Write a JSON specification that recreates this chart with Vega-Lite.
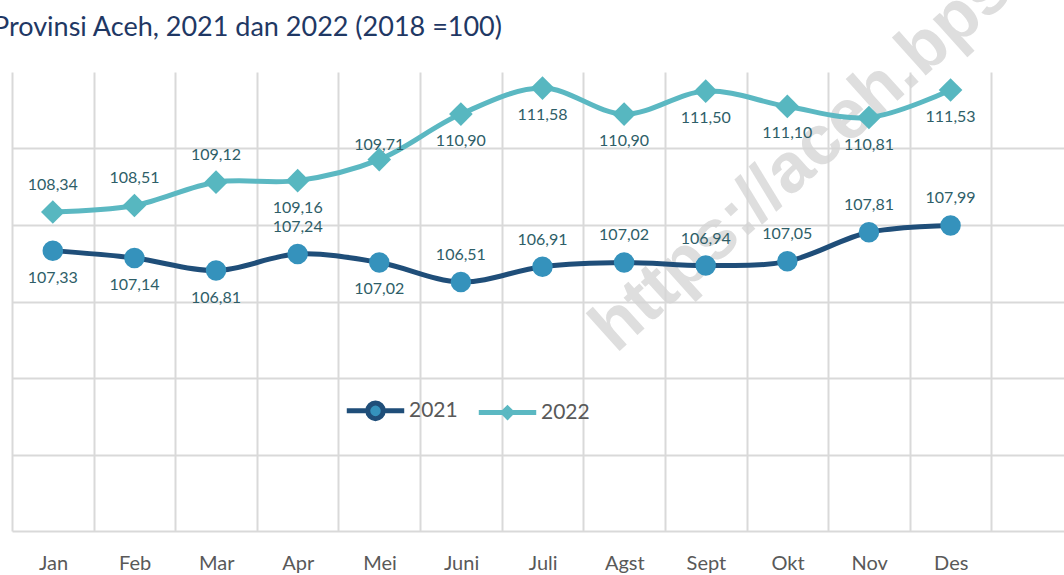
{
  "$schema": "https://vega.github.io/schema/vega-lite/v6.json",
  "autosize": {"type": "none"},
  "padding": {"left": 12, "top": 72, "right": 0, "bottom": 44},
  "width": 1052,
  "height": 459,
  "background": "white",
  "config": {
    "view": {"stroke": null},
    "locale": {"number": {"decimal": ",", "thousands": ".", "grouping": [3], "currency": ["", ""]}},
    "font": "Lato"
  },
  "title": {
    "text": "Provinsi Aceh, 2021 dan 2022 (2018 =100)",
    "anchor": "start",
    "frame": "group",
    "dx": -19,
    "dy": 122,
    "offset": 0,
    "baseline": "alphabetic",
    "font": "Lato",
    "fontSize": 27,
    "fontWeight": "normal",
    "color": "#1F3864"
  },
  "data": {
    "values": [
      {"m": 1, "bulan": "Jan", "year": "2021", "value": 107.33},
      {"m": 2, "bulan": "Feb", "year": "2021", "value": 107.14},
      {"m": 3, "bulan": "Mar", "year": "2021", "value": 106.81},
      {"m": 4, "bulan": "Apr", "year": "2021", "value": 107.24},
      {"m": 5, "bulan": "Mei", "year": "2021", "value": 107.02},
      {"m": 6, "bulan": "Juni", "year": "2021", "value": 106.51},
      {"m": 7, "bulan": "Juli", "year": "2021", "value": 106.91},
      {"m": 8, "bulan": "Agst", "year": "2021", "value": 107.02},
      {"m": 9, "bulan": "Sept", "year": "2021", "value": 106.94},
      {"m": 10, "bulan": "Okt", "year": "2021", "value": 107.05},
      {"m": 11, "bulan": "Nov", "year": "2021", "value": 107.81},
      {"m": 12, "bulan": "Des", "year": "2021", "value": 107.99},
      {"m": 1, "bulan": "Jan", "year": "2022", "value": 108.34},
      {"m": 2, "bulan": "Feb", "year": "2022", "value": 108.51},
      {"m": 3, "bulan": "Mar", "year": "2022", "value": 109.12},
      {"m": 4, "bulan": "Apr", "year": "2022", "value": 109.16},
      {"m": 5, "bulan": "Mei", "year": "2022", "value": 109.71},
      {"m": 6, "bulan": "Juni", "year": "2022", "value": 110.90},
      {"m": 7, "bulan": "Juli", "year": "2022", "value": 111.58},
      {"m": 8, "bulan": "Agst", "year": "2022", "value": 110.90},
      {"m": 9, "bulan": "Sept", "year": "2022", "value": 111.50},
      {"m": 10, "bulan": "Okt", "year": "2022", "value": 111.10},
      {"m": 11, "bulan": "Nov", "year": "2022", "value": 110.81},
      {"m": 12, "bulan": "Des", "year": "2022", "value": 111.53}
    ]
  },
  "encoding": {
    "x": {
      "field": "m", "type": "quantitative",
      "scale": {"domain": [0.5, 13.39], "nice": false, "zero": false},
      "axis": {
        "title": null,
        "values": [0.5, 1.5, 2.5, 3.5, 4.5, 5.5, 6.5, 7.5, 8.5, 9.5, 10.5, 11.5, 12.5],
        "labelExpr": "datum.value < 12 ? ['Jan','Feb','Mar','Apr','Mei','Juni','Juli','Agst','Sept','Okt','Nov','Des'][floor(datum.value)] : ''",
        "labelOffset": 41,
        "labelPadding": 22,
        "labelFontSize": 20,
        "labelColor": "#595959",
        "labelFont": "Lato",
        "labelOverlap": false,
        "labelFlush": false,
        "labelBound": false,
        "ticks": false,
        "domain": false,
        "grid": true,
        "gridColor": "#D9D9D9",
        "gridWidth": 2
      }
    },
    "y": {
      "field": "value", "type": "quantitative",
      "scale": {"domain": [100, 112], "nice": false, "zero": false},
      "axis": {
        "title": null,
        "values": [100, 102, 104, 106, 108, 110],
        "labels": false,
        "ticks": false,
        "domain": false,
        "grid": true,
        "gridColor": "#D9D9D9",
        "gridWidth": 2
      }
    }
  },
  "layer": [
    {
      "transform": [{"filter": "datum.m == 1 && datum.year == '2021'"}],
      "mark": {"type": "text", "align": "left", "baseline": "alphabetic", "angle": -42, "font": "Liberation Sans", "fontSize": 70, "fontWeight": "bold", "color": "#D6D6D6", "opacity": 0.8},
      "encoding": {
        "x": {"datum": 7.9, "type": "quantitative"},
        "y": {"datum": 104.62, "type": "quantitative"},
        "text": {"value": "https://aceh.bps."}
      }
    },
    {
      "mark": {"type": "line", "interpolate": "catmull-rom", "strokeWidth": 5},
      "encoding": {
        "color": {
          "field": "year", "type": "nominal",
          "scale": {"domain": ["2021", "2022"], "range": ["#1F4E79", "#5BB8C2"]},
          "legend": {
            "title": null,
            "orient": "none",
            "legendX": 332,
            "legendY": 307,
            "direction": "horizontal",
            "symbolType": "stroke",
            "symbolStrokeWidth": 5,
            "symbolSize": 3300,
            "labelFontSize": 21,
            "labelColor": "#595959",
            "labelFont": "Lato",
            "columnPadding": 10,
            "labelOffset": 2,
            "encode": {
              "symbols": {
                "update": {
                  "shape": {"signal": "datum.value == '2021' ? 'M-1,0H-0.27M0.27,0H1M-0.27,0A0.27,0.27 0 1 0 0.27,0A0.27,0.27 0 1 0 -0.27,0Z' : 'M-1,0H-0.15M0.15,0H1M-0.15,0L0,-0.15L0.15,0L0,0.15Z'"},
                  "fill": {"signal": "datum.value == '2021' ? '#3592BC' : '#57B7C0'"},
                  "fillOpacity": {"value": 1}
                }
              }
            }
          }
        }
      }
    },
    {
      "transform": [{"filter": "datum.year == '2021'"}],
      "mark": {"type": "point", "shape": "circle", "filled": true, "size": 420, "color": "#3592BC", "opacity": 1}
    },
    {
      "transform": [{"filter": "datum.year == '2022'"}],
      "mark": {"type": "point", "shape": "diamond", "filled": true, "size": 560, "color": "#57B7C0", "opacity": 1}
    },
    {
      "transform": [{"filter": "(datum.year == '2022') == (indexof([1,2,3,5], datum.m) >= 0) && !(datum.year == '2022' && datum.m == 5)"}],
      "mark": {"type": "text", "dy": -27, "fontSize": 16, "font": "Lato", "color": "#2E5E68"},
      "encoding": {"text": {"field": "value", "type": "quantitative", "format": ".2f"}}
    },
    {
      "transform": [{"filter": "(datum.year == '2022') != (indexof([1,2,3,5], datum.m) >= 0)"}],
      "mark": {"type": "text", "dy": 27, "fontSize": 16, "font": "Lato", "color": "#2E5E68"},
      "encoding": {"text": {"field": "value", "type": "quantitative", "format": ".2f"}}
    },
    {
      "transform": [{"filter": "datum.year == '2022' && datum.m == 5"}],
      "mark": {"type": "text", "dy": -15, "fontSize": 16, "font": "Lato", "color": "#2E5E68"},
      "encoding": {"text": {"field": "value", "type": "quantitative", "format": ".2f"}}
    }
  ]
}
